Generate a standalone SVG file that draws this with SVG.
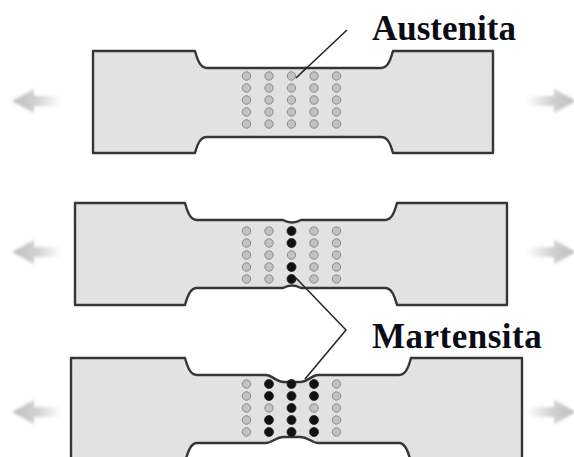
<svg xmlns="http://www.w3.org/2000/svg" width="574" height="457" viewBox="0 0 574 457">
  <style>
    .bar { fill: #e2e2e2; stroke: #363636; stroke-width: 2.4; stroke-linejoin: round; }
    .a { fill: #c2c2c2; stroke: #8a8a8a; stroke-width: 1; }
    .m { fill: #111; stroke: #222; stroke-width: 0.8; }
    .lbl { font-family: "Liberation Serif", "Times New Roman", serif; font-weight: bold; font-size: 35px; fill: #0c0c18; }
    .lead { fill: none; stroke: #222; stroke-width: 1.5; stroke-linejoin: miter; }
  </style>
  <defs>
    <linearGradient id="fadeL" x1="0" y1="0" x2="1" y2="0">
      <stop offset="0" stop-color="#bdbdbd"/>
      <stop offset="0.5" stop-color="#d2d2d2"/>
      <stop offset="1" stop-color="#ffffff"/>
    </linearGradient>
    <filter id="soft" x="-20%" y="-50%" width="140%" height="200%">
      <feGaussianBlur stdDeviation="1.6"/>
    </filter>
    <!-- pull arrow, pointing left, tip at origin -->
    <path id="pull" d="M0,0 L22,-12 L22,-5 L50,-5 L50,5 L22,5 L22,12 Z" fill="url(#fadeL)" filter="url(#soft)"/>
    <circle id="dA" r="4.2" class="a"/>
    <circle id="dM" r="4.5" class="m"/>
  </defs>

  <!-- pulling arrows -->
  <g id="arrows">
    <use href="#pull" x="12" y="101"/>
    <use href="#pull" transform="translate(576,101) scale(-1,1)"/>
    <use href="#pull" x="12" y="252"/>
    <use href="#pull" transform="translate(576,252) scale(-1,1)"/>
    <use href="#pull" x="12" y="412"/>
    <use href="#pull" transform="translate(576,412) scale(-1,1)"/>
  </g>

  <!-- specimen 1: unstrained, all austenite -->
  <g id="specimen1">
    <path class="bar" d="M93,51 H195 C198,62 201,68 207,68 H381 C387,68 390,62 393,51 H493 V153 H393 C390,142 387,137 381,137 H207 C201,137 198,142 195,153 H93 Z"/>
    <g>
      <use href="#dA" x="246.5" y="76"/><use href="#dA" x="269" y="76"/><use href="#dA" x="291.5" y="76"/><use href="#dA" x="314" y="76"/><use href="#dA" x="336.5" y="76"/>
      <use href="#dA" x="246.5" y="88"/><use href="#dA" x="269" y="88"/><use href="#dA" x="291.5" y="88"/><use href="#dA" x="314" y="88"/><use href="#dA" x="336.5" y="88"/>
      <use href="#dA" x="246.5" y="100"/><use href="#dA" x="269" y="100"/><use href="#dA" x="291.5" y="100"/><use href="#dA" x="314" y="100"/><use href="#dA" x="336.5" y="100"/>
      <use href="#dA" x="246.5" y="112"/><use href="#dA" x="269" y="112"/><use href="#dA" x="291.5" y="112"/><use href="#dA" x="314" y="112"/><use href="#dA" x="336.5" y="112"/>
      <use href="#dA" x="246.5" y="124"/><use href="#dA" x="269" y="124"/><use href="#dA" x="291.5" y="124"/><use href="#dA" x="314" y="124"/><use href="#dA" x="336.5" y="124"/>
    </g>
  </g>

  <!-- specimen 2: necking starts, centre column transforms -->
  <g id="specimen2">
    <path class="bar" d="M75,203 H185 C188,214 191,220 197,220 H283 Q292,225 301,220 H385 C391,220 394,214 397,203 H507 V305 H397 C394,294 391,288 385,288 H301 Q292,283 283,288 H197 C191,288 188,294 185,305 H75 Z"/>
    <g>
      <use href="#dA" x="246.5" y="231"/><use href="#dA" x="269" y="231"/><use href="#dM" x="291.5" y="231"/><use href="#dA" x="314" y="231"/><use href="#dA" x="336.5" y="231"/>
      <use href="#dA" x="246.5" y="243"/><use href="#dA" x="269" y="243"/><use href="#dM" x="291.5" y="243"/><use href="#dA" x="314" y="243"/><use href="#dA" x="336.5" y="243"/>
      <use href="#dA" x="246.5" y="255"/><use href="#dA" x="269" y="255"/><use href="#dA" x="291.5" y="255"/><use href="#dA" x="314" y="255"/><use href="#dA" x="336.5" y="255"/>
      <use href="#dA" x="246.5" y="267"/><use href="#dA" x="269" y="267"/><use href="#dM" x="291.5" y="267"/><use href="#dA" x="314" y="267"/><use href="#dA" x="336.5" y="267"/>
      <use href="#dA" x="246.5" y="279"/><use href="#dA" x="269" y="279"/><use href="#dM" x="291.5" y="279"/><use href="#dA" x="314" y="279"/><use href="#dA" x="336.5" y="279"/>
    </g>
  </g>

  <!-- specimen 3: neck widened, three columns transformed -->
  <g id="specimen3">
    <path class="bar" d="M71,358 H185 C188,369 191,375 197,375 H266 C272,375 276,382 284,382 H300 C308,382 312,375 318,375 H399 C405,375 408,369 411,358 H522 V462 H411 C408,451 405,443 399,443 H318 C312,443 308,437 300,437 H284 C276,437 272,443 266,443 H197 C191,443 188,451 185,462 H71 Z"/>
    <g>
      <use href="#dA" x="246.5" y="384"/><use href="#dM" x="269" y="384"/><use href="#dM" x="291.5" y="384"/><use href="#dM" x="314" y="384"/><use href="#dA" x="336.5" y="384"/>
      <use href="#dA" x="246.5" y="396"/><use href="#dM" x="269" y="396"/><use href="#dM" x="291.5" y="396"/><use href="#dM" x="314" y="396"/><use href="#dA" x="336.5" y="396"/>
      <use href="#dA" x="246.5" y="408"/><use href="#dA" x="269" y="408"/><use href="#dM" x="291.5" y="408"/><use href="#dA" x="314" y="408"/><use href="#dA" x="336.5" y="408"/>
      <use href="#dA" x="246.5" y="420"/><use href="#dM" x="269" y="420"/><use href="#dM" x="291.5" y="420"/><use href="#dM" x="314" y="420"/><use href="#dA" x="336.5" y="420"/>
      <use href="#dA" x="246.5" y="432"/><use href="#dM" x="269" y="432"/><use href="#dM" x="291.5" y="432"/><use href="#dM" x="314" y="432"/><use href="#dA" x="336.5" y="432"/>
    </g>
  </g>

  <!-- leader lines; the austenite one thickens toward its dot -->
  <g id="connectors">
    <path class="lead" d="M347,30 L296,78"/>
    <path d="M309,63 L295,79 L305,68 Z" fill="#222"/>
    <path class="lead" d="M296,278 L346,330 L305,379"/>
  </g>

  <g id="label-austenita">
    <text class="lbl" x="372" y="40">Austenita</text>
  </g>
  <g id="label-martensita">
    <text class="lbl" x="372" y="348" letter-spacing="0.5">Martensita</text>
  </g>
</svg>
